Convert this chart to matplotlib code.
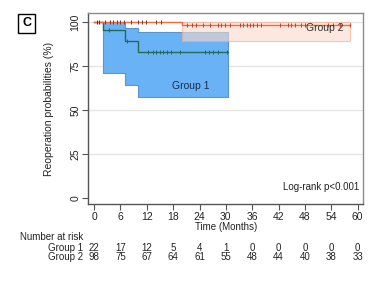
import matplotlib
matplotlib.use("Agg")
import matplotlib.pyplot as plt
import numpy as np

plt.rcParams['font.family'] = ['Liberation Sans', 'DejaVu Sans']

# Group 1 Kaplan-Meier step data
g1_times = [0, 2, 7, 10, 30.4]
g1_surv = [100, 95.2, 89.5, 83.0, 83.0]
g1_ci_times = [2, 7, 10, 30.4]
g1_ci_upper = [100, 96.8, 94.5, 94.5]
g1_ci_lower = [71.2, 64.4, 57.2, 57.2]
g1_censor_100 = [0.6, 1.1]
g1_censor_1 = [3.4]
g1_censor_2 = [7.4]
g1_censor_3 = [12.3, 13.4, 14.2, 15.0, 15.8, 16.6, 17.6, 19.5,
               25.2, 26.2, 27.1, 28.1, 30.2]

# Group 2 Kaplan-Meier step data
g2_times = [0, 20, 58.2]
g2_surv = [100, 98.5, 98.5]
g2_ci_times = [20, 58.2]
g2_ci_upper = [100, 100]
g2_ci_lower = [89.4, 89.4]
g2_censor_100 = [2.5, 3.6, 4.3, 5.2, 5.9, 6.8, 8.4, 10.0, 11.0, 11.8, 14.1, 15.2]
g2_censor_2 = [21.2, 22.2, 23.3, 24.8, 26.4, 28.2, 29.0, 29.8, 30.9, 33.2,
               33.9, 34.7, 35.5, 36.2, 37.0, 38.1, 42.3, 44.2, 44.9, 45.7,
               47.2, 48.0, 53.3, 54.4, 55.9, 58.2]

xticks = [0, 6, 12, 18, 24, 30, 36, 42, 48, 54, 60]
yticks = [0, 25, 50, 75, 100]
risk_g1 = [22, 17, 12, 5, 4, 1, 0, 0, 0, 0, 0]
risk_g2 = [98, 75, 67, 64, 61, 55, 48, 44, 40, 38, 33]

fig = plt.figure(figsize=(3.74, 2.83), dpi=100)
ax = fig.add_axes([88/374, 1-204/283, (363-88)/374, (204-13)/283])

ax.set_xlim(-1.37, 61.2)
ax.set_ylim(-3.2, 105.1)

for y in [25, 50, 75, 100]:
    ax.axhline(y, color='#e6e6e6', lw=1.0, zorder=0)

# CI fills
ax.fill_between(g1_ci_times, g1_ci_lower, g1_ci_upper, step='post',
                facecolor='#6ab2f6', edgecolor='#5b95cf', lw=0.8, zorder=1)
ax.fill_between(g2_ci_times, g2_ci_lower, g2_ci_upper, step='post',
                facecolor='#fbd9cb', edgecolor='#f2a88c', lw=0.8, alpha=0.6, zorder=2)

# KM lines
ax.step(g1_times, g1_surv, where='post', color='#236a5c', lw=1.0, zorder=3)
ax.step(g2_times, g2_surv, where='post', color='#e8703f', lw=1.0, zorder=4)

# censor marks
ms = 3.2
mw = 0.7
ax.plot(g1_censor_100, [100]*len(g1_censor_100), ls='none', marker='|', ms=ms, mew=mw, color='#3a3a3a', zorder=5)
ax.plot(g1_censor_1, [g1_surv[1]]*len(g1_censor_1), ls='none', marker='|', ms=ms, mew=mw, color='#236a5c', zorder=5)
ax.plot(g1_censor_2, [g1_surv[2]]*len(g1_censor_2), ls='none', marker='|', ms=ms, mew=mw, color='#236a5c', zorder=5)
ax.plot(g1_censor_3, [g1_surv[3]]*len(g1_censor_3), ls='none', marker='|', ms=ms, mew=mw, color='#236a5c', zorder=5)
ax.plot(g2_censor_100, [100]*len(g2_censor_100), ls='none', marker='|', ms=ms, mew=mw, color='#7a3a2a', zorder=5)
ax.plot(g2_censor_2, [g2_surv[1]]*len(g2_censor_2), ls='none', marker='|', ms=ms, mew=mw, color='#b8452e', zorder=5)

ax.text(22, 63.8, 'Group 1', fontsize=7.5, color='#1c2a50', ha='center', va='center', zorder=6)
ax.text(52.5, 96.4, 'Group 2', fontsize=7.5, color='#333333', ha='center', va='center', zorder=6)
ax.text(60.3, 6.5, 'Log-rank p<0.001', fontsize=7, color='#222222', ha='right', va='center')

ax.set_xticks(xticks)
ax.set_xticklabels([str(t) for t in xticks], fontsize=7.5, color='#222222')
ax.set_yticks(yticks)
ax.set_yticklabels([str(t) for t in yticks], fontsize=7.5, color='#222222',
                   rotation=90, va='center')
ax.tick_params(axis='both', direction='out', length=4, width=0.8, color='#555555', pad=1.5)
for s in ax.spines.values():
    s.set_color('#8a8a8a')
    s.set_linewidth(1.0)
ax.spines['left'].set_color('#555555')
ax.spines['bottom'].set_color('#555555')

ax.set_ylabel('Reoperation probabilities (%)', fontsize=7.5, color='#222222', labelpad=12)
fig.text((94.3 + 30*4.39)/374, 1-227/283, 'Time (Months)', fontsize=7, color='#222222',
         ha='center', va='center')

# Number at risk table
trans = matplotlib.transforms.blended_transform_factory(ax.transData, fig.transFigure)
fig.text(20.5/374, 1-237.5/283, 'Number at risk', fontsize=7, color='#222222', ha='left', va='center')
fig.text(83/374, 1-248/283, 'Group 1', fontsize=7, color='#222222', ha='right', va='center')
fig.text(83/374, 1-257.5/283, 'Group 2', fontsize=7, color='#222222', ha='right', va='center')
for t, a, b in zip(xticks, risk_g1, risk_g2):
    ax.text(t, 1-248/283, str(a), transform=trans, fontsize=7, color='#222222', ha='center', va='center')
    ax.text(t, 1-257.5/283, str(b), transform=trans, fontsize=7, color='#222222', ha='center', va='center')

# Panel label
fig.text(26.5/374, 1-23.5/283, 'C', fontsize=9, fontweight='bold', ha='center', va='center',
         bbox=dict(boxstyle='square,pad=0.3', facecolor='white', edgecolor='black', lw=1.0))

fig.savefig('out.png', dpi=100)
